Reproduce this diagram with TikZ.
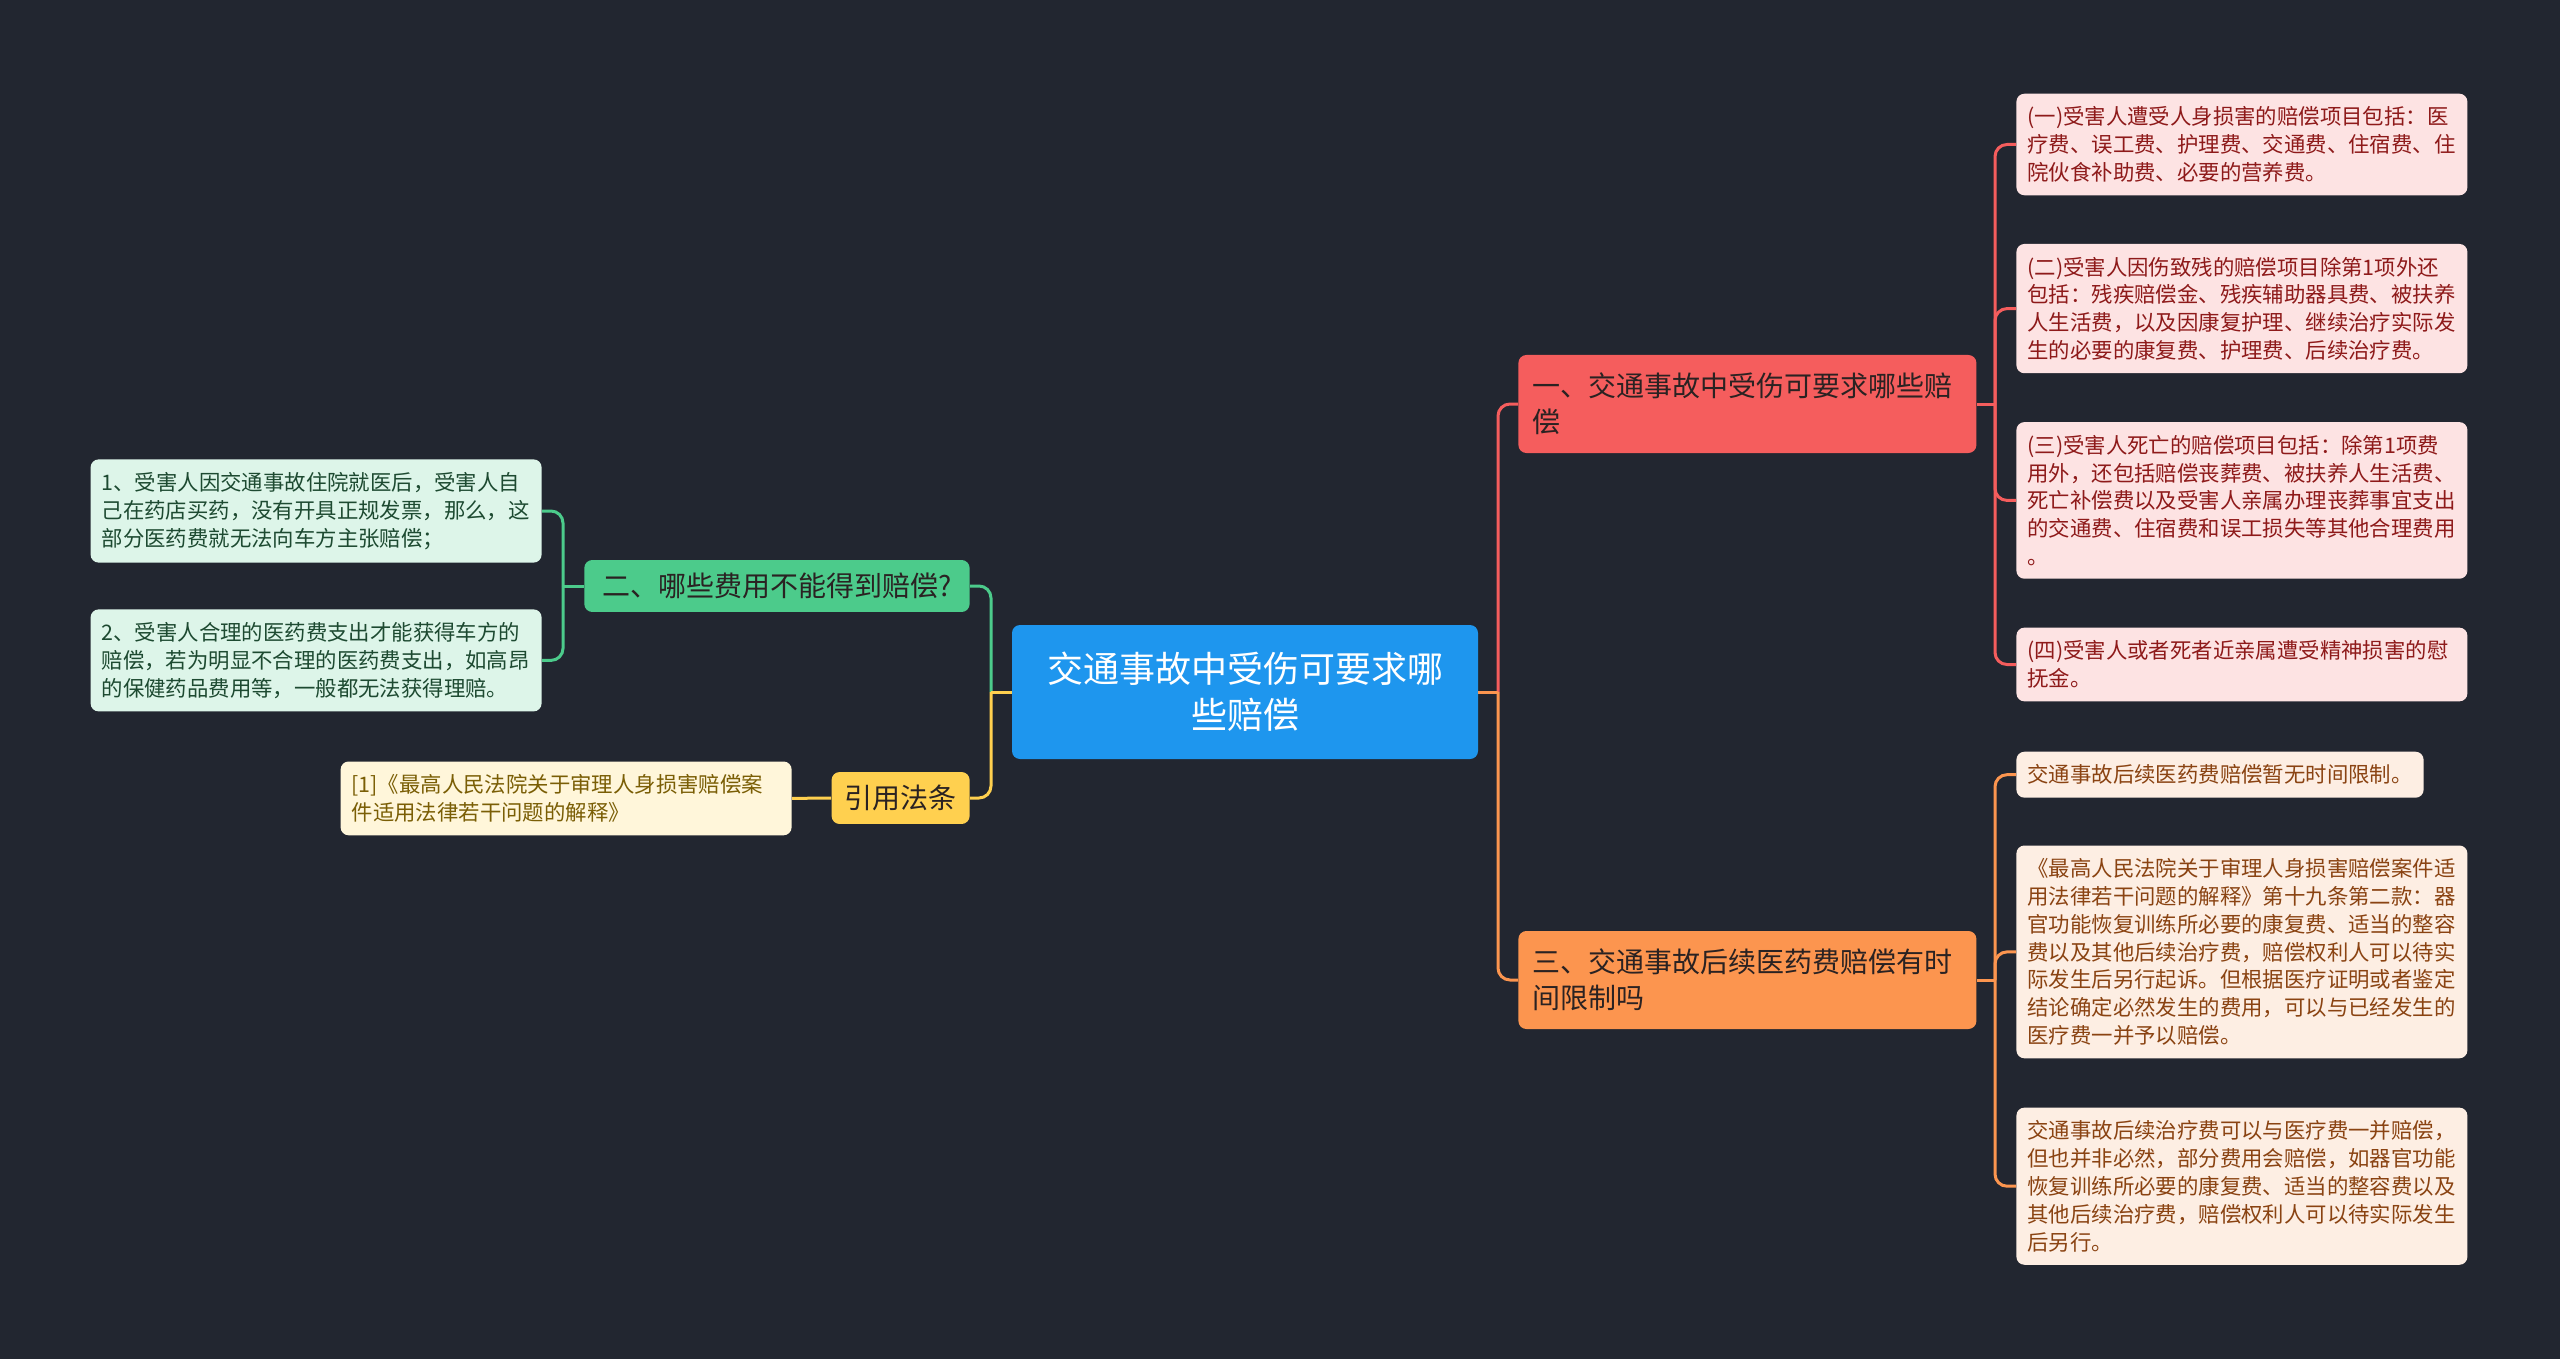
\documentclass[tikz,border=0pt]{standalone}
\usepackage{fontspec}
\setmainfont{Noto Sans CJK SC}
\definecolor{bgc}{HTML}{222630}
\definecolor{cblue}{HTML}{1E96EE}
\definecolor{cred}{HTML}{F55D5D}
\definecolor{corange}{HTML}{FC954F}
\definecolor{cgreen}{HTML}{4CCB8B}
\definecolor{cyellow}{HTML}{FFD04F}
\definecolor{lred}{HTML}{FDE3E3}
\definecolor{lorange}{HTML}{FDEEE3}
\definecolor{lgreen}{HTML}{DDF5E9}
\definecolor{lyellow}{HTML}{FFF6DA}
\definecolor{tred}{HTML}{8E1A1A}
\definecolor{torange}{HTML}{8A4312}
\definecolor{tgreen}{HTML}{1D4A31}
\definecolor{tyellow}{HTML}{7A5E05}
\definecolor{tdark}{HTML}{2A2222}
\begin{document}
\begin{tikzpicture}[x=0.5pt,y=-0.5pt,
  leaffont/.style={font=\fontsize{10.7pt}{13.9pt}\selectfont},
  leafbox/.style={rounded corners=4pt, align=left, text width=214.5pt, inner xsep=5.5pt, inner ysep=6.5pt, leaffont},
  branchbox/.style={rounded corners=4pt, align=left, inner xsep=7pt, inner ysep=9pt, font=\fontsize{14pt}{18pt}\selectfont, text=tdark},
  conn/.style={line width=1.5pt, rounded corners=6pt},
]
\fill[bgc] (0,0) rectangle (2560,1359);

% central
\node[fill=cblue, rounded corners=4pt, minimum width=233pt, minimum height=67pt, align=center, text=white, font=\fontsize{18pt}{23pt}\selectfont] (c) at (1245,692) {交通事故中受伤可要求哪\\些赔偿};

% branches
\node[branchbox, fill=cred, text width=215pt, anchor=west] (b1) at (1518,404) {一、交通事故中受伤可要求哪些赔\\偿};
\node[branchbox, fill=corange, text width=215pt, anchor=west] (b3) at (1518,980) {三、交通事故后续医药费赔偿有时\\间限制吗};
\node[branchbox, fill=cgreen, inner xsep=9pt, inner ysep=6.5pt, anchor=east] (b2) at (970,586) {二、哪些费用不能得到赔偿?};
\node[branchbox, fill=cyellow, inner xsep=6.5pt, inner ysep=6.5pt, anchor=east] (b4) at (970,798) {引用法条};

% red leaves
\node[leafbox, fill=lred, text=tred, anchor=west] (r1) at (2016,144.5) {(一)受害人遭受人身损害的赔偿项目包括：医\\疗费、误工费、护理费、交通费、住宿费、住\\院伙食补助费、必要的营养费。};
\node[leafbox, fill=lred, text=tred, anchor=west] (r2) at (2016,308.6) {(二)受害人因伤致残的赔偿项目除第1项外还\\包括：残疾赔偿金、残疾辅助器具费、被扶养\\人生活费，以及因康复护理、继续治疗实际发\\生的必要的康复费、护理费、后续治疗费。};
\node[leafbox, fill=lred, text=tred, anchor=west] (r3) at (2016,500.4) {(三)受害人死亡的赔偿项目包括：除第1项费\\用外，还包括赔偿丧葬费、被扶养人生活费、\\死亡补偿费以及受害人亲属办理丧葬事宜支出\\的交通费、住宿费和误工损失等其他合理费用\\。};
\node[leafbox, fill=lred, text=tred, anchor=west] (r4) at (2016,664.5) {(四)受害人或者死者近亲属遭受精神损害的慰\\抚金。};

% orange leaves
\node[rounded corners=4pt, inner xsep=5.5pt, inner ysep=6.5pt, leaffont, fill=lorange, text=torange, anchor=west] (o1) at (2016,774.7) {交通事故后续医药费赔偿暂无时间限制。};
\node[leafbox, fill=lorange, text=torange, anchor=west] (o2) at (2016,951.9) {《最高人民法院关于审理人身损害赔偿案件适\\用法律若干问题的解释》第十九条第二款：器\\官功能恢复训练所必要的康复费、适当的整容\\费以及其他后续治疗费，赔偿权利人可以待实\\际发生后另行起诉。但根据医疗证明或者鉴定\\结论确定必然发生的费用，可以与已经发生的\\医疗费一并予以赔偿。};
\node[leafbox, fill=lorange, text=torange, anchor=west] (o3) at (2016,1186.2) {交通事故后续治疗费可以与医疗费一并赔偿，\\但也并非必然，部分费用会赔偿，如器官功能\\恢复训练所必要的康复费、适当的整容费以及\\其他后续治疗费，赔偿权利人可以待实际发生\\后另行。};

% green leaves
\node[leafbox, fill=lgreen, text=tgreen, anchor=east] (g1) at (542,511) {1、受害人因交通事故住院就医后，受害人自\\己在药店买药，没有开具正规发票，那么，这\\部分医药费就无法向车方主张赔偿；};
\node[leafbox, fill=lgreen, text=tgreen, anchor=east] (g2) at (542,660.4) {2、受害人合理的医药费支出才能获得车方的\\赔偿，若为明显不合理的医药费支出，如高昂\\的保健药品费用等，一般都无法获得理赔。};

% yellow leaf
\node[leafbox, fill=lyellow, text=tyellow, anchor=east] (y1) at (792,798.4) {[1]《最高人民法院关于审理人身损害赔偿案\\件适用法律若干问题的解释》};

% junction coordinates
\coordinate (jR) at (1498,692);
\coordinate (jL) at (991,692);
\coordinate (j1) at (1995,404);
\coordinate (j3) at (1995,980);
\coordinate (j2) at (563,586);

% connectors center
\draw[conn, cred] (c.east) -- (jR);
\draw[conn, cred] (jR) |- (b1.west);
\draw[conn, corange] (c.east) -- (jR);
\draw[conn, corange] (jR) |- (b3.west);
\draw[conn, cgreen] (c.west) -- (jL);
\draw[conn, cgreen] (jL) |- (b2.east);
\draw[conn, cyellow] (c.west) -- (jL);
\draw[conn, cyellow] (jL) |- (b4.east);

% red leaves
\draw[conn, cred] (b1.east) -- (j1);
\foreach \n in {r1,r2,r3,r4} \draw[conn, cred] (j1) |- (\n.west);
% orange leaves
\draw[conn, corange] (b3.east) -- (j3);
\foreach \n in {o1,o2,o3} \draw[conn, corange] (j3) |- (\n.west);
% green leaves
\draw[conn, cgreen] (b2.west) -- (j2);
\foreach \n in {g1,g2} \draw[conn, cgreen] (j2) |- (\n.east);
% yellow leaf
\draw[conn, cyellow] (b4.west) -- (y1.east);
\end{tikzpicture}
\end{document}
